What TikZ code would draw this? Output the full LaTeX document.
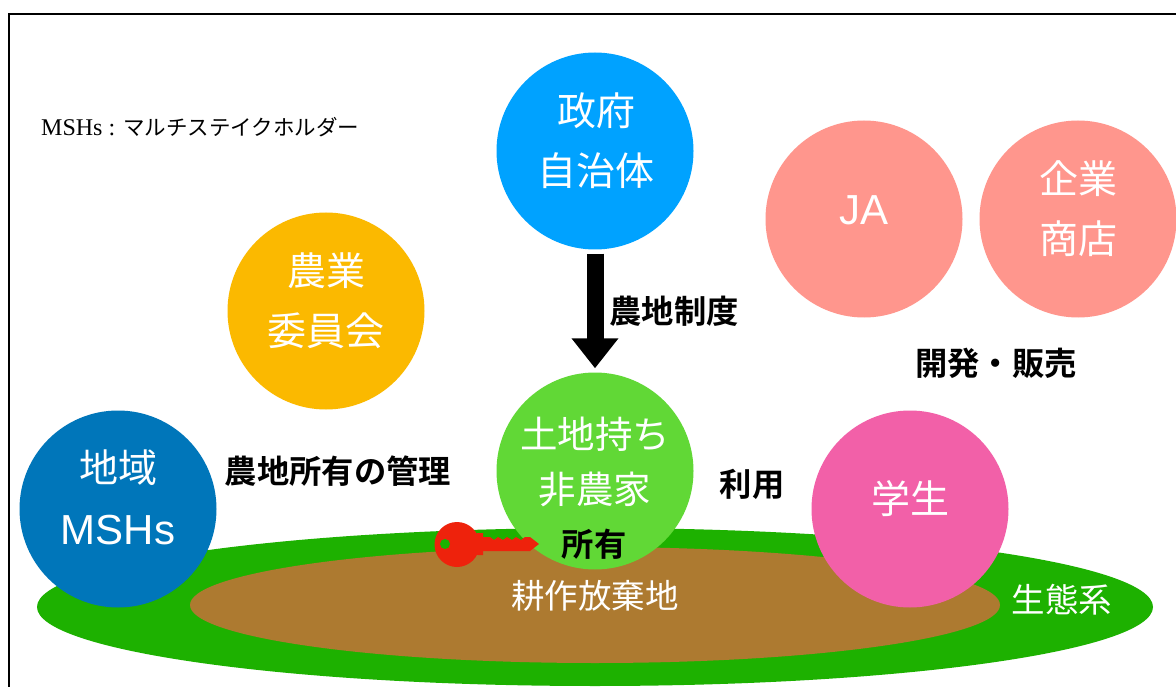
\documentclass[tikz,border=0pt]{standalone}
\usepackage{fontspec}
\setmainfont{Noto Sans CJK JP}
\newfontfamily\boldcjk{Noto Sans CJK JP Bold}
\newfontfamily\latinsans{Liberation Sans}
\newfontfamily\latinserif{Liberation Serif}
\usetikzlibrary{arrows.meta}
\definecolor{govblue}{HTML}{00A2FF}
\definecolor{salmon}{HTML}{FF968D}
\definecolor{amber}{HTML}{FBB900}
\definecolor{deepblue}{HTML}{0076BA}
\definecolor{leaf}{HTML}{61D836}
\definecolor{pinky}{HTML}{F260A8}
\definecolor{grass}{HTML}{1DB100}
\definecolor{soil}{HTML}{AD7A30}
\definecolor{keyred}{HTML}{EE220C}
\tikzset{
  actor/.style={circle,minimum size=197pt,inner sep=0pt},
  ctext/.style={text=white,inner sep=0pt,align=center,font=\fontsize{39}{60}\selectfont},
  ctextb/.style={text=white,inner sep=0pt,align=center,font=\fontsize{37.5}{55}\selectfont},
  lat/.style={text=white,inner sep=0pt,font=\latinsans\fontsize{42}{50}\selectfont},
  lbl/.style={font=\boldcjk\fontsize{32.3}{38}\selectfont,text=black,inner sep=0pt},
  wlbl/.style={font=\fontsize{33.5}{38}\selectfont,text=white,inner sep=0pt},
}
\begin{document}
\begin{tikzpicture}[x=1pt,y=-1pt]
\useasboundingbox (0,0) rectangle (1176,687);
\fill[white] (0,0) rectangle (1176,687);
\draw[line width=2pt,black] (9,700) -- (9,14.5) -- (1176,14.5);
\fill[grass] (595,607) ellipse [x radius=558,y radius=79];
\fill[soil] (595,605) ellipse [x radius=405,y radius=58];
\node[actor,fill=deepblue] (mshs) at (118,509) {};
\node[actor,fill=amber] (iinkai) at (326,311) {};
\node[actor,fill=govblue] (gov) at (595,151) {};
\node[actor,fill=salmon] (ja) at (864,219) {};
\node[actor,fill=salmon] (kigyo) at (1078,219) {};
\node[actor,fill=pinky] (gakusei) at (910,509) {};
\node[actor,fill=leaf] (owner) at (595,471) {};
\node[ctext] (t1) at (118,468) {地域};
\node[lat] (t2) at (118,530) {MSHs};
\node[ctext] (t3) at (326,301) {農業\\委員会};
\node[ctext] (t4) at (596,141) {政府\\自治体};
\node[lat] (t5) at (864,210) {JA};
\node[ctext] (t6) at (1078,209) {企業\\商店};
\node[ctext] (t7) at (910,499) {学生};
\node[ctextb] (t8) at (595,462) {土地持ち\\非農家};
\draw[line width=17pt,-{Triangle[length=30pt,width=45pt]},black,shorten >=4pt,shorten <=4pt] (gov.south) -- (owner.north);
\node[lbl] (seido) at (674,311) {農地制度};
\node[lbl] (hanbai) at (996,363) {開発・販売};
\node[lbl] (kanri) at (338,471) {農地所有の管理};
\node[lbl] (riyo) at (752,484) {利用};
\node[lbl] (shoyu) at (594,544) {所有};
\node[wlbl] (kosaku) at (595,596) {耕作放棄地};
\node[wlbl] (seitai) at (1062,600) {生態系};
\node[anchor=west,inner sep=0pt] (note) at (41,127) {{\latinserif\fontsize{24}{28}\selectfont MSHs : }{\fontsize{21.5}{28}\selectfont マルチステイクホルダー}};
\fill[keyred] (457,539) -- (478,533) -- (483,533) -- (483,537) -- (490,537) -- (494,540) -- (498,537) -- (503,540) -- (507,537) -- (512,540) -- (516,537) -- (521,540) -- (525,537) -- (530,537) -- (539,544) -- (530,551) -- (483,551) -- (483,555) -- (478,555) -- (457,550) -- cycle;
\fill[keyred] (457,544.5) circle [radius=22.5];
\fill[grass] (445,544) circle [radius=5];
\end{tikzpicture}
\end{document}
